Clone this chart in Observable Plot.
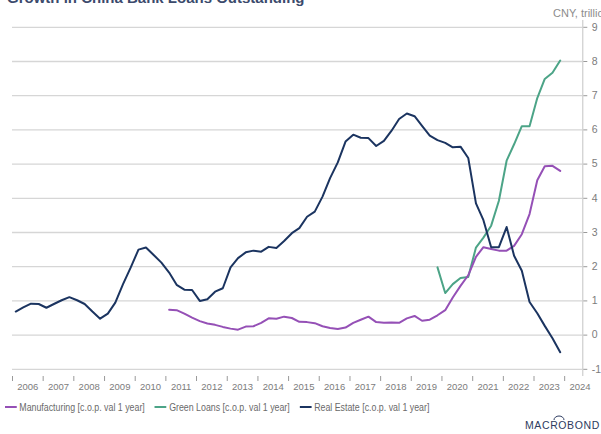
<!DOCTYPE html>
<html>
<head>
<meta charset="utf-8">
<script src="https://cdn.jsdelivr.net/npm/d3@7"></script>
<script src="https://cdn.jsdelivr.net/npm/@observablehq/plot@0.6"></script>
<style>
  html, body { margin: 0; padding: 0; background: #fff; }
  #wrap { position: relative; width: 601px; height: 434px; overflow: hidden; font-family: "Liberation Sans", Arial, sans-serif; }
  #title { position: absolute; left: 7px; top: -11px; font: bold 15px "Liberation Sans", Arial, sans-serif; color: #3b4a6c; white-space: nowrap; }
  #unit { position: absolute; left: 553px; top: 7px; font-size: 11px; color: #8c8c8c; white-space: nowrap; }
  #chart { position: absolute; left: 0; top: 0; }
  #legend { position: absolute; left: 5px; top: 401px; display: flex; font-size: 10.5px; color: #6a6a6a; white-space: nowrap; transform: scaleX(0.84); transform-origin: 0 0; }
  .item { display: flex; align-items: center; margin-right: 12px; }
  .sw { width: 14px; height: 2.5px; margin-right: 3px; }
  #logo { position: absolute; left: 524px; top: 414px; }
</style>
</head>
<body>
<div id="wrap">
  <div id="chart"></div>
  <div id="title">Growth in China Bank Loans Outstanding</div>
  <div id="unit">CNY, trillions</div>
  <div id="legend"></div>
  <svg id="logo" width="77" height="20"></svg>
</div>
<script>
// ---- data (quarterly, first observation 2006 Q1) ----
const seriesNames = ["Manufacturing [c.o.p. val 1 year]", "Green Loans [c.o.p. val 1 year]", "Real Estate [c.o.p. val 1 year]"];
const seriesColors = ["#9550b6", "#4ca487", "#1b3460"];

const realEstateStart = 0;    // 2006 Q1
const realEstate = [
  0.69, 0.81, 0.92, 0.91, 0.80, 0.91, 1.02, 1.11, 1.02, 0.91, 0.69, 0.48,
  0.63, 0.95, 1.49, 1.98, 2.50, 2.56, 2.34, 2.12, 1.83, 1.47, 1.33, 1.32,
  1.00, 1.05, 1.27, 1.37, 1.98, 2.25, 2.42, 2.47, 2.44, 2.58, 2.55, 2.75,
  2.98, 3.13, 3.46, 3.61, 4.05, 4.59, 5.05, 5.66, 5.86, 5.77, 5.76, 5.53,
  5.68, 5.97, 6.32, 6.48, 6.40, 6.12, 5.83, 5.70, 5.62, 5.49, 5.51, 5.18,
  3.85, 3.36, 2.57, 2.57, 3.16, 2.32, 1.88, 0.97, 0.64, 0.27, -0.09, -0.50
];

const manufacturingStart = 20; // 2011 Q1
const manufacturing = [
  0.74, 0.73, 0.63, 0.51, 0.41, 0.34, 0.30, 0.24, 0.19, 0.16, 0.25, 0.26,
  0.36, 0.49, 0.48, 0.54, 0.50, 0.39, 0.38, 0.35, 0.26, 0.21, 0.18, 0.22,
  0.36, 0.45, 0.54, 0.38, 0.36, 0.37, 0.36, 0.49, 0.56, 0.42, 0.45, 0.58,
  0.73, 1.10, 1.44, 1.75, 2.29, 2.57, 2.52, 2.47, 2.47, 2.61, 2.95, 3.54,
  4.53, 4.94, 4.95, 4.80
];

const greenStart = 55;        // 2019 Q4
const greenLoans = [
  1.98, 1.23, 1.49, 1.67, 1.70, 2.56, 2.85, 3.20, 3.93, 5.10, 5.58, 6.11,
  6.11, 6.93, 7.49, 7.67, 8.03
];

const yearTicks = [2006, 2007, 2008, 2009, 2010, 2011, 2012, 2013, 2014, 2015, 2016, 2017, 2018, 2019, 2020, 2021, 2022, 2023, 2024];
const yTicks = [-1, 0, 1, 2, 3, 4, 5, 6, 7, 8, 9];

// ---- build tables ----
const firstObs = new Date(Date.UTC(2006, 1, 9));
const qDate = i => d3.utcMonth.offset(firstObs, 3 * i);
const toRows = (vals, start, name) => vals.map((v, k) => ({date: qDate(start + k), value: v, series: name}));
const rowsMan = toRows(manufacturing, manufacturingStart, seriesNames[0]);
const rowsGreen = toRows(greenLoans, greenStart, seriesNames[1]);
const rowsRE = toRows(realEstate, realEstateStart, seriesNames[2]);

const xStart = new Date(Date.UTC(2006, 0, 1));
const xEnd = new Date(Date.UTC(2024, 7, 4));
const yMin = -1.21, yMax = 9;

const tickDates = yearTicks.map(y => new Date(Date.UTC(y, 0, 1)));
const labelDates = yearTicks.map(y => new Date(Date.UTC(y, 6, 2)));

const chart = Plot.plot({
  width: 601,
  height: 395,
  marginLeft: 12,
  marginRight: 18.7,
  marginTop: 26.8,
  marginBottom: 19,
  style: {color: "#7c7c7c", background: "transparent", fontFamily: "'Liberation Sans', Arial, sans-serif"},
  x: {type: "utc", domain: [xStart, xEnd], axis: null, label: null},
  y: {domain: [yMin, yMax], axis: null, label: null},
  marks: [
    Plot.ruleY(yTicks, {x1: xStart, x2: xEnd, stroke: "#d6d6d6", strokeWidth: 1.3}),
    Plot.ruleX([xEnd], {y1: yMin, y2: 9.2, stroke: "#c4c4c4", strokeWidth: 1}),
    Plot.axisY(yTicks, {anchor: "right", label: null, tickSize: 4, tickPadding: 5, tickFormat: d => String(d), fontSize: 10.5, stroke: "#9a9a9a"}),
    Plot.axisX(tickDates, {anchor: "bottom", label: null, tickSize: 5, tickFormat: () => "", stroke: "#9a9a9a"}),
    Plot.axisX(labelDates, {anchor: "bottom", label: null, tickSize: 0, tickPadding: 7, tickFormat: d => String(d.getUTCFullYear()), fontSize: 9.5}),
    Plot.line(rowsGreen, {x: "date", y: "value", stroke: seriesColors[1], strokeWidth: 2}),
    Plot.line(rowsMan, {x: "date", y: "value", stroke: seriesColors[0], strokeWidth: 2}),
    Plot.line(rowsRE, {x: "date", y: "value", stroke: seriesColors[2], strokeWidth: 2})
  ]
});
document.getElementById("chart").appendChild(chart);

// ---- legend ----
const legend = document.getElementById("legend");
seriesNames.forEach((name, i) => {
  const item = document.createElement("div");
  item.className = "item";
  const sw = document.createElement("span");
  sw.className = "sw";
  sw.style.background = seriesColors[i];
  const label = document.createElement("span");
  label.textContent = name;
  item.appendChild(sw);
  item.appendChild(label);
  legend.appendChild(item);
});

// ---- logo ----
const logo = d3.select("#logo");
logo.append("text").attr("x", 1).attr("y", 15)
  .attr("font-family", "'Liberation Sans', Arial, sans-serif").attr("font-size", 10.5)
  .attr("letter-spacing", 0.6).attr("fill", "#2d3b60").text("MACROBOND");
logo.append("path").attr("d", "M30 6 A5 4 0 0 1 40 6").attr("fill", "none").attr("stroke", "#2d3b60").attr("stroke-width", 1);
</script>
</body>
</html>
